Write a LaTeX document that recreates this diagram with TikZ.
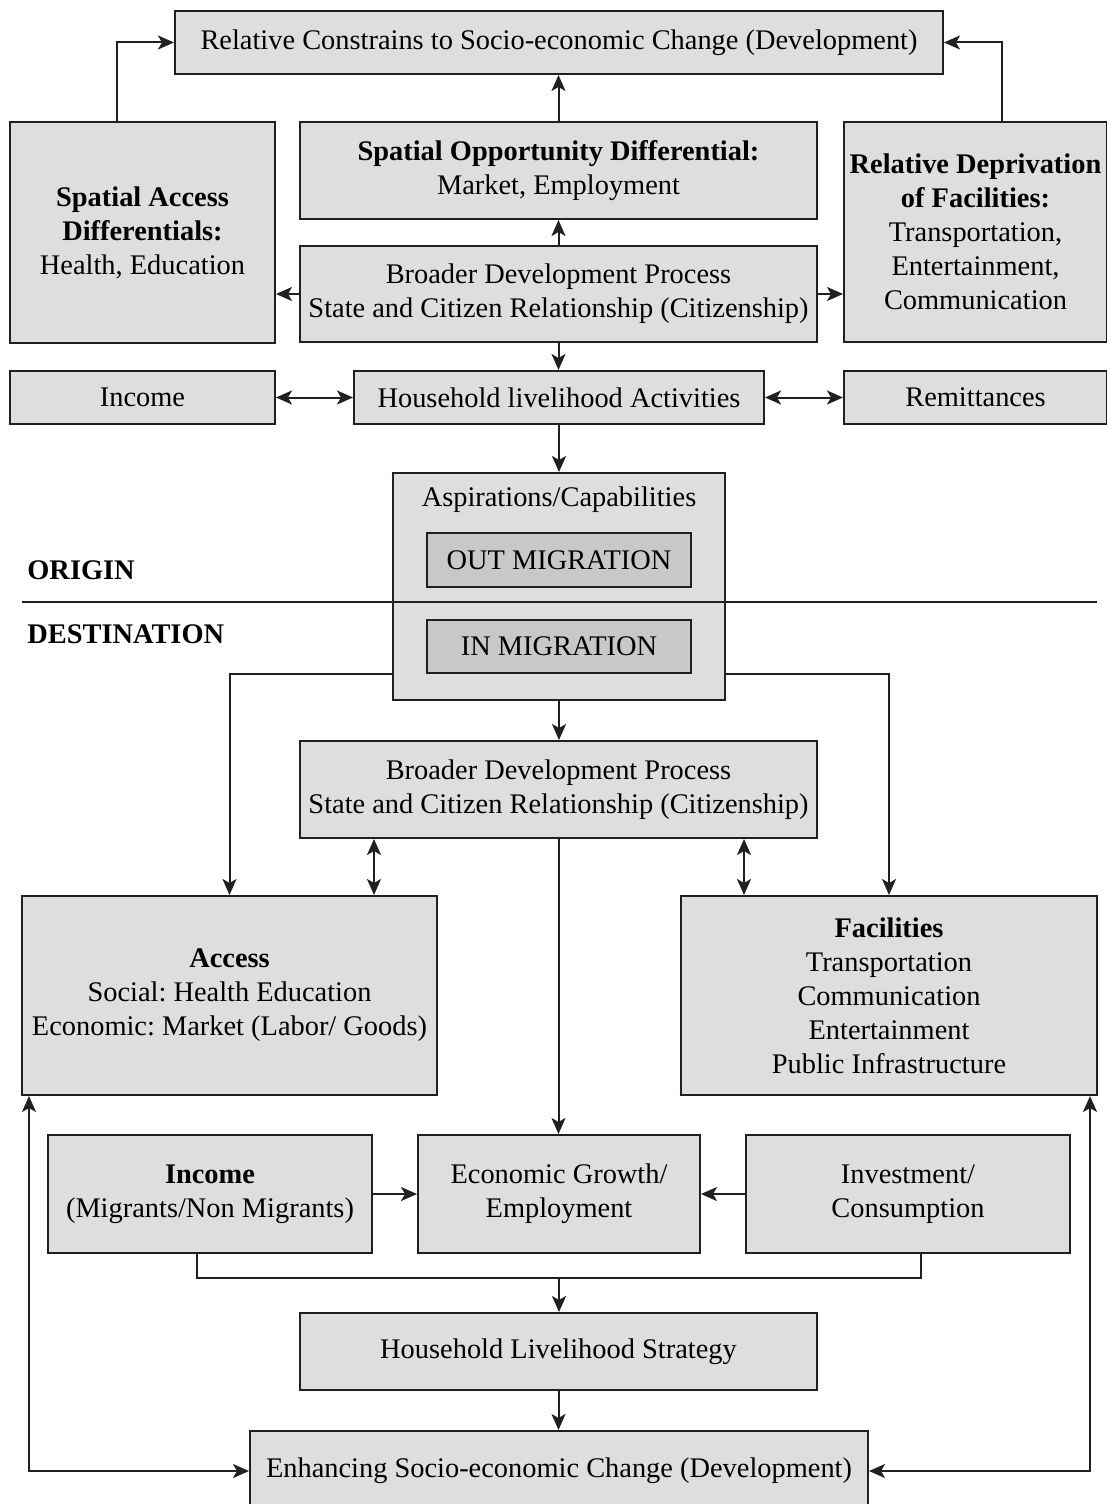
\documentclass[tikz,border=0pt]{standalone}
\usepackage{fontspec}
\setmainfont{Liberation Serif}
\usetikzlibrary{arrows.meta}

\definecolor{boxgray}{RGB}{222,222,222}
\definecolor{midgray}{RGB}{200,200,200}
\definecolor{ink}{RGB}{35,31,32}

\begin{document}
\frenchspacing
\begin{tikzpicture}[x=0.5pt,y=-0.5pt,
        txt/.style={inner sep=2pt, font=\fontsize{14.2}{17}\selectfont},
        box/.style={txt, draw=ink, line width=1pt, fill=boxgray, align=center},
        inbox/.style={box, fill=midgray},
        arr/.style={draw=ink, line width=1pt, -{Stealth[length=8pt,width=7pt,inset=2pt]}},
        arrboth/.style={draw=ink, line width=1pt, {Stealth[length=8pt,width=7pt,inset=2pt]}-{Stealth[length=8pt,width=7pt,inset=2pt]}}]

        \useasboundingbox (0,0) rectangle (1107,1504);
        \fill[white] (0,0) rectangle (1107,1504);

        % origin
        \node[box, minimum width=384pt, minimum height=31.5pt] (relc) at (559,42.5) {Relative Constrains to Socio-economic Change (Development)};
        \node[box, minimum width=132.5pt, minimum height=110.5pt] (sad) at (142.5,232.5) {\textbf{Spatial Access}\\ \textbf{Differentials:}\\ Health, Education};
        \node[box, minimum width=258.5pt, minimum height=48.5pt] (sod) at (558.5,170.5) {\textbf{Spatial Opportunity Differential:}\\ Market, Employment};
        \node[box, minimum width=131.5pt, minimum height=110pt] (rdf) at (975.5,232) {\textbf{Relative Deprivation}\\ \textbf{of Facilities:}\\ Transportation,\\ Entertainment,\\ Communication};
        \node[box, minimum width=258.5pt, minimum height=48pt] (bdt) at (558.5,294) {Broader Development Process\\ State and Citizen Relationship (Citizenship)};
        \node[box, minimum width=132.5pt, minimum height=26.5pt] (inc) at (142.5,397.5) {Income};
        \node[box, minimum width=205pt, minimum height=26.5pt] (hla) at (559,397.5) {Household livelihood Activities};
        \node[box, minimum width=131.5pt, minimum height=26.5pt] (rem) at (975.5,397.5) {Remittances};

        % migrace
        \node[box, minimum width=166pt, minimum height=113.5pt] (asp) at (559,586.5) {};
        \node[txt] (asptxt) at (559,500) {Aspirations/Capabilities};
        \node[inbox, minimum width=132pt, minimum height=27pt] (out) at (559,560) {OUT MIGRATION};
        \node[inbox, minimum width=132pt, minimum height=26.5pt] (in) at (559,646.5) {IN MIGRATION};
        \draw[ink, line width=1pt] (22,602) -- (1097,602);
        \node[txt, anchor=west, font=\fontsize{14.2}{17}\selectfont\bfseries] (org) at (23,570) {ORIGIN};
        \node[txt, anchor=west, font=\fontsize{14.2}{17}\selectfont\bfseries] (dst) at (23,634) {DESTINATION};

        % destination
        \node[box, minimum width=258.5pt, minimum height=48.5pt] (bdb) at (558.5,789.5) {Broader Development Process\\ State and Citizen Relationship (Citizenship)};
        \node[box, minimum width=207.5pt, minimum height=99.5pt] (acc) at (229.5,995.5) {\textbf{Access}\\ Social: Health Education\\ Economic: Market (Labor/ Goods)};
        \node[box, minimum width=208pt, minimum height=99.5pt] (fac) at (889,995.5) {\textbf{Facilities}\\ Transportation\\ Communication\\ Entertainment\\ Public Infrastructure};
        \node[box, minimum width=162pt, minimum height=59pt] (inc2) at (210,1194) {\textbf{Income}\\ (Migrants/Non Migrants)};
        \node[box, minimum width=141pt, minimum height=59pt] (eco) at (559,1194) {Economic Growth/\\ Employment};
        \node[box, minimum width=162pt, minimum height=59pt] (inv) at (908,1194) {Investment/\\ Consumption};
        \node[box, minimum width=258.5pt, minimum height=38.5pt] (hls) at (558.5,1351.5) {Household Livelihood Strategy};
        \node[box, minimum width=309pt, minimum height=40pt] (enh) at (559,1471) {Enhancing Socio-economic Change (Development)};

        % sipky nahore
        \draw[arr] ([xshift=-12.75pt]sad.north) |- (relc.west);
        \draw[arr] ([xshift=13.25pt]rdf.north) |- (relc.east);
        \draw[arr] (sod.north) -- (sod.north |- relc.south);
        \draw[arr] (bdt.north) -- (sod.south);
        \draw[arr] (bdt.west) -- (bdt.west -| sad.east);
        \draw[arr] (bdt.east) -- (bdt.east -| rdf.west);
        \draw[arr] (bdt.south) -- (bdt.south |- hla.north);
        \draw[arrboth] (inc.east) -- (hla.west);
        \draw[arrboth] (hla.east) -- (rem.west);
        \draw[arr] (hla.south) -- (asp.north);

        % sipky dole
        \draw[arr] (asp.west |- in.south) -| (acc.north);
        \draw[arr] (asp.east |- in.south) -| (fac.north);
        \draw[arr] (asp.south) -- (asp.south |- bdb.north);
        \draw[arr] (bdb.south) -- (bdb.south |- eco.north);
        \draw[arrboth] ([xshift=-92.25pt]bdb.south) -- ([xshift=-92.25pt]bdb.south |- acc.north);
        \draw[arrboth] ([xshift=92.75pt]bdb.south) -- ([xshift=92.75pt]bdb.south |- fac.north);
        \draw[arr] (inc2.east) -- (eco.west);
        \draw[arr] (inv.west) -- (eco.east);

        % spojeni do strategie
        \coordinate (mrg) at (559,1278);
        \draw[draw=ink, line width=1pt] ([xshift=-6.5pt]inc2.south) |- (mrg) -| ([xshift=6.5pt]inv.south);
        \draw[arr] (mrg) -- (mrg |- hls.north);
        \draw[arr] (hls.south) -- (hls.south |- enh.north);

        % zpetna vazba
        \draw[arrboth] ([xshift=4pt]acc.south west) |- (enh.west);
        \draw[arrboth] ([xshift=-4pt]fac.south east) |- (enh.east);
    \end{tikzpicture}
\end{document}
